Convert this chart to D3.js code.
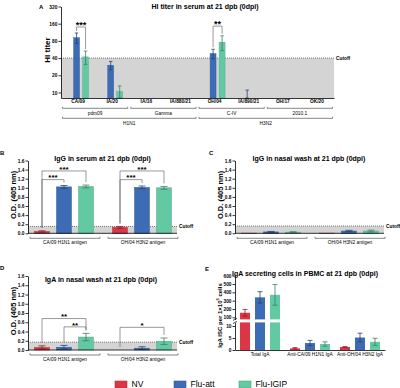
<!DOCTYPE html>
<html><head><meta charset="utf-8">
<script src="https://cdn.jsdelivr.net/npm/d3@7"></script>
<style>
body{margin:0;background:#fff}
svg{display:block}
</style></head><body>
<svg id="c" width="400" height="388"></svg>
<script>
// ---------- DATA ----------
const seriesNames = ["NV", "Flu-att", "Flu-IGIP"];
const seriesColors = ["#dc3545", "#3d6cb5", "#63c9a3"];

// Panel A: HI titer
const strainsA = ["CA/09", "IA/20", "IA/16", "IA/880/21", "OH/04", "IA/890/21", "OH/17", "OK/20"];
const lineageLabels = ["pdm09", "Gamma", "C-IV", "2010.1"];
const subtypeLabels = ["H1N1", "H3N2"];
const hiNV = [null, null, null, null, null, null, null, null];
const hiAtt = [91, 30, null, null, 48, 8, null, null];
const hiAttSd = [19, 5, 0, 0, 9, 3, 0, 0];
const hiIgip = [42, 10.4, null, null, 76, null, null, null];
const hiIgipSd = [11, 2.6, 0, 0, 22, 0, 0, 0];
const hiTicks = [10, 20, 40, 80, 160, 320];
const hiCutoff = 40;
const sigA = [
  {cat: "CA/09", a: 1, b: 2, level: 140, label: "***"},
  {cat: "OH/04", a: 1, b: 2, level: 145, label: "**"}
];

// Panels B, C, D: O.D. values
const antigens = ["CA/09 H1N1 antigen", "OH/04 H3N2 antigen"];
const odTicks = [0, 0.2, 0.4, 0.6, 0.8, 1.0, 1.2, 1.4, 1.6];
const igSerumNV = [0.04, 0.13], igSerumNVSd = [0.015, 0.02];
const igSerumAtt = [1.02, 1.01], igSerumAttSd = [0.03, 0.03];
const igSerumIgip = [1.03, 1.00], igSerumIgipSd = [0.03, 0.03];
const sigB = [
  {g: 0, a: 0, b: 2, level: 1.37, label: "***"},
  {g: 0, a: 0, b: 1, level: 1.18, label: "***"},
  {g: 1, a: 0, b: 2, level: 1.37, label: "***"},
  {g: 1, a: 0, b: 1, level: 1.18, label: "***"}
];
const igNasalNV = [0.004, 0.004], igNasalNVSd = [0, 0];
const igNasalAtt = [0.03, 0.05], igNasalAttSd = [0.01, 0.015];
const igNasalIgip = [0.025, 0.05], igNasalIgipSd = [0.01, 0.02];
const iga_NV = [0.055, 0], iga_NVSd = [0.035, 0];
const iga_Att = [0.06, 0.04], iga_AttSd = [0.04, 0.03];
const iga_Igip = [0.28, 0.19], iga_IgipSd = [0.08, 0.07];
const sigD = [
  {g: 0, a: 0, b: 2, level: 0.68, label: "**"},
  {g: 0, a: 1, b: 2, level: 0.50, label: "**"},
  {g: 1, a: 0, b: 2, level: 0.49, label: "*"}
];
const cutoffB = 0.15, cutoffC = 0.16, cutoffD = 0.17;

// Panel E: IgA secreting cells
const ascGroups = ["Total IgA", "Anti-CA/09 H1N1 IgA", "Anti-OH/04 H3N2 IgA"];
const ascNV = [155, 0.7, 1.25], ascNVSd = [40, 0.3, 0.15];
const ascAtt = [340, 2.9, 5.2], ascAttSd = [68, 1.1, 1.8];
const ascIgip = [370, 2.5, 3.4], ascIgipSd = [125, 0.9, 1.5];
const ascTicksHigh = [100, 200, 300, 400, 500, 600];
const ascTicksLow = [0, 5, 10];

// ---------- DRAWING ----------
const FONT = "'Liberation Sans', Arial, Helvetica, sans-serif";
const svg = d3.select("#c").attr("font-family", FONT);
const errColor = c => d3.color(c).darker(1.3).formatHex();
const edgeColor = c => d3.color(c).darker(0.5).formatHex();

function styleAxis(sel, fs, weight) {
  sel.attr("font-size", fs).attr("font-family", FONT).attr("font-weight", weight);
  sel.select(".domain").attr("stroke", "#000").attr("stroke-width", 0.8);
  sel.selectAll(".tick line").attr("stroke", "#000").attr("stroke-width", 0.8);
  sel.selectAll(".tick text").attr("fill", "#000");
}
function errBar(g, cx, yTop, yBot, capW, color) {
  g.append("line").attr("x1", cx).attr("x2", cx).attr("y1", yTop).attr("y2", yBot)
    .attr("stroke", color).attr("stroke-width", 0.8);
  [yTop, yBot].forEach(y => g.append("line").attr("x1", cx - capW / 2).attr("x2", cx + capW / 2)
    .attr("y1", y).attr("y2", y).attr("stroke", color).attr("stroke-width", 0.8));
}
function text(g, x, y, str, fs, weight, anchor) {
  return g.append("text").attr("x", x).attr("y", y).text(str).attr("font-size", fs)
    .attr("font-weight", weight || "normal").attr("text-anchor", anchor || "start").attr("fill", "#000");
}
function vText(g, x, y, str, fs) {
  return g.append("text").attr("transform", `translate(${x},${y}) rotate(-90)`).text(str)
    .attr("font-size", fs).attr("font-weight", "bold").attr("text-anchor", "middle").attr("fill", "#000");
}
function bracket(g, x0, x1, y, tick) {
  g.append("path").attr("d", `M${x0},${y - tick}V${y}H${x1}V${y - tick}`)
    .attr("fill", "none").attr("stroke", "#333").attr("stroke-width", 0.6);
}
function sigBracket(g, xa, xb, yLine, yA, yB, label, fs) {
  g.append("path").attr("d", `M${xa},${yA}V${yLine}H${xb}V${yB}`)
    .attr("fill", "none").attr("stroke", "#555").attr("stroke-width", 0.6);
  text(g, (xa + xb) / 2, yLine + 0.8, label, fs, "bold", "middle");
}

// ===== Panel A =====
(function () {
  const g = svg.append("g");
  const x = d3.scaleBand().domain(strainsA).range([61, 334]);
  const xi = d3.scaleBand().domain(seriesNames).range([-13.5, 10.5]).paddingInner(1 / 3);
  const y = d3.scaleLog().base(2).domain([8, 320]).range([98, 6.5]);
  const y0 = y.range()[0];
  g.append("rect").attr("x", 61).attr("y", y(hiCutoff)).attr("width", 273).attr("height", y0 - y(hiCutoff)).attr("fill", "#d4d4d4");
  g.append("line").attr("x1", 61).attr("x2", 334).attr("y1", y(hiCutoff)).attr("y2", y(hiCutoff))
    .attr("stroke", "#444").attr("stroke-width", 0.7).attr("stroke-dasharray", "1,1");
  text(g, 336, y(hiCutoff) + 1.8, "Cutoff", 4.8, "bold");

  const vals = [hiNV, hiAtt, hiIgip], sds = [hiNV.map(() => 0), hiAttSd, hiIgipSd];
  const tops = {};
  seriesNames.forEach((s, si) => {
    strainsA.forEach((c, i) => {
      const v = vals[si][i];
      if (v == null) return;
      const bx = x(c) + x.bandwidth() / 2 + xi(s), bw = xi.bandwidth();
      g.append("rect").attr("x", bx).attr("y", y(v)).attr("width", bw).attr("height", y0 - y(v))
        .attr("fill", seriesColors[si]).attr("stroke", edgeColor(seriesColors[si])).attr("stroke-width", 0.4);
      const hi = v + sds[si][i], lo = Math.max(8, v - sds[si][i]);
      errBar(g, bx + bw / 2, y(hi), y(lo), 3.5, errColor(seriesColors[si]));
      tops[c + si] = y(hi);
    });
  });
  sigA.forEach(d => {
    const xa = x(d.cat) + x.bandwidth() / 2 + xi(seriesNames[d.a]) + xi.bandwidth() / 2;
    const xb = x(d.cat) + x.bandwidth() / 2 + xi(seriesNames[d.b]) + xi.bandwidth() / 2;
    sigBracket(g, xa, xb, y(d.level), tops[d.cat + d.a] - 2, tops[d.cat + d.b] - 2, d.label, 9);
  });

  const ya = g.append("g").attr("transform", "translate(61,0)")
    .call(d3.axisLeft(y).tickValues(hiTicks).tickFormat(d3.format("d")).tickSize(2.5).tickSizeOuter(0).tickPadding(1.2));
  styleAxis(ya, 4.8, "bold");
  const xa = g.append("g").attr("transform", `translate(0,${y0})`)
    .call(d3.axisBottom(x).tickSize(0).tickPadding(1.6).tickSizeOuter(0));
  styleAxis(xa, 4.8, "bold");

  lineageLabels.forEach((l, j) => {
    const x0 = x(strainsA[2 * j]) + 1.5, x1 = x(strainsA[2 * j + 1]) + x.bandwidth() - 1.5;
    bracket(g, x0, x1, 108.3, 1.5);
    text(g, (x0 + x1) / 2, 115, l, 4.8, "normal", "middle");
  });
  subtypeLabels.forEach((l, j) => {
    const x0 = x(strainsA[4 * j]) + 1.5, x1 = x(strainsA[4 * j + 3]) + x.bandwidth() - 1.5;
    bracket(g, x0, x1, 118.3, 1.5);
    text(g, (x0 + x1) / 2, 125, l, 4.8, "normal", "middle");
  });
  text(g, 39, 8.5, "A", 6, "bold");
  text(g, 205, 8.5, "HI titer in serum at 21 dpb (0dpi)", 7, "bold", "middle");
  vText(g, 49.5, 50, "HI titer", 8);
})();

// ===== Panels B, C, D =====
function odPanel(cfg) {
  const g = svg.append("g");
  const x = d3.scaleBand().domain(antigens).range([cfg.ax - 3, cfg.ax + 153]);
  const xi = d3.scaleBand().domain(seriesNames).range([-29.5, 29.5]).paddingInner(0.318);
  const y = d3.scaleLinear().domain([0, 1.6]).range([cfg.y0, cfg.yTop]);
  const xEnd = cfg.ax + 149;
  g.append("rect").attr("x", cfg.ax).attr("y", y(cfg.cutoff)).attr("width", xEnd - cfg.ax)
    .attr("height", cfg.y0 - y(cfg.cutoff)).attr("fill", "#d4d4d4");
  g.append("line").attr("x1", cfg.ax).attr("x2", xEnd).attr("y1", y(cfg.cutoff)).attr("y2", y(cfg.cutoff))
    .attr("stroke", "#444").attr("stroke-width", 0.7).attr("stroke-dasharray", "1,1");
  text(g, xEnd + 2, y(cfg.cutoff) + 1.8, "Cutoff", 4.8, "bold");

  const centers = {};
  seriesNames.forEach((s, si) => {
    antigens.forEach((a, i) => {
      const v = cfg.vals[si][i], sd = cfg.sds[si][i];
      const bx = x(a) + x.bandwidth() / 2 + xi(s), bw = xi.bandwidth();
      centers[i + "_" + si] = {x: bx + bw / 2, top: y(v + sd)};
      if (v <= 0) return;
      g.append("rect").attr("x", bx).attr("y", y(v)).attr("width", bw).attr("height", cfg.y0 - y(v))
        .attr("fill", seriesColors[si]).attr("stroke", edgeColor(seriesColors[si])).attr("stroke-width", 0.5);
      if (sd > 0) errBar(g, bx + bw / 2, y(v + sd), y(Math.max(0, v - sd)), 7, errColor(seriesColors[si]));
    });
  });
  cfg.sig.forEach(d => {
    const A = centers[d.g + "_" + d.a], B = centers[d.g + "_" + d.b];
    sigBracket(g, A.x, B.x, y(d.level), A.top - 3, B.top - 3, d.label, 8);
  });
  const ya = g.append("g").attr("transform", `translate(${cfg.ax},0)`)
    .call(d3.axisLeft(y).tickValues(odTicks).tickFormat(d3.format(".1f")).tickSize(2.5).tickSizeOuter(0).tickPadding(1));
  styleAxis(ya, 4.8, "bold");
  g.append("line").attr("x1", cfg.ax).attr("x2", xEnd).attr("y1", cfg.y0).attr("y2", cfg.y0)
    .attr("stroke", "#000").attr("stroke-width", 0.8);
  antigens.forEach(a => {
    const c = x(a) + x.bandwidth() / 2;
    bracket(g, c - 34, c + 36, cfg.y0 + 5, 1.5);
    text(g, c + 1, cfg.y0 + 10.7, a, 4.8, "normal", "middle");
  });
  text(g, cfg.letterX, cfg.letterY, cfg.letter, 6, "bold");
  text(g, cfg.titleX, cfg.titleY, cfg.title, 7, "bold", "middle");
  vText(g, cfg.ax - 12.5, (cfg.y0 + cfg.yTop) / 2 - 2, "O.D. (405 nm)", 7.5);
}
odPanel({ax: 28, y0: 233.3, yTop: 160.5, cutoff: cutoffB,
  vals: [igSerumNV, igSerumAtt, igSerumIgip], sds: [igSerumNVSd, igSerumAttSd, igSerumIgipSd],
  sig: sigB, letter: "B", letterX: 0, letterY: 155, title: "IgG in serum at 21 dpb (0dpi)", titleX: 102.5, titleY: 161});
odPanel({ax: 235, y0: 233.3, yTop: 160.5, cutoff: cutoffC,
  vals: [igNasalNV, igNasalAtt, igNasalIgip], sds: [igNasalNVSd, igNasalAttSd, igNasalIgipSd],
  sig: [], letter: "C", letterX: 209, letterY: 155, title: "IgG in nasal wash at 21 dpb (0dpi)", titleX: 309, titleY: 161});
odPanel({ax: 28, y0: 350, yTop: 276, cutoff: cutoffD,
  vals: [iga_NV, iga_Att, iga_Igip], sds: [iga_NVSd, iga_AttSd, iga_IgipSd],
  sig: sigD, letter: "D", letterX: 0, letterY: 270, title: "IgA in nasal wash at 21 dpb (0dpi)", titleX: 101, titleY: 282});

// ===== Panel E =====
(function () {
  const g = svg.append("g");
  const ax = 235;
  const x = d3.scaleBand().domain(ascGroups).range([ax, 385]);
  const xi = d3.scaleBand().domain(seriesNames).range([-20, 20]).paddingInner(1 / 3);
  const yLow = d3.scaleLinear().domain([0, 11.5]).range([350, 322.4]);
  const yHigh = d3.scaleLinear().domain([75, 600]).range([319.4, 275.7]);
  const vals = [ascNV, ascAtt, ascIgip], sds = [ascNVSd, ascAttSd, ascIgipSd];
  seriesNames.forEach((s, si) => {
    ascGroups.forEach((grp, i) => {
      const v = vals[si][i], sd = sds[si][i];
      const bx = x(grp) + x.bandwidth() / 2 + xi(s), bw = xi.bandwidth();
      const col = seriesColors[si];
      if (v > yLow.domain()[1]) {
        g.append("rect").attr("x", bx).attr("y", yLow(yLow.domain()[1])).attr("width", bw)
          .attr("height", 350 - yLow(yLow.domain()[1])).attr("fill", col);
        g.append("rect").attr("x", bx).attr("y", yHigh(v)).attr("width", bw)
          .attr("height", yHigh(yHigh.domain()[0]) - yHigh(v)).attr("fill", col);
        errBar(g, bx + bw / 2, yHigh(v + sd), yHigh(v - sd), 5, errColor(col));
      } else {
        g.append("rect").attr("x", bx).attr("y", yLow(v)).attr("width", bw)
          .attr("height", 350 - yLow(v)).attr("fill", col);
        errBar(g, bx + bw / 2, yLow(v + sd), yLow(Math.max(0, v - sd)), 5, errColor(col));
      }
    });
  });
  const yl = g.append("g").attr("transform", `translate(${ax},0)`)
    .call(d3.axisLeft(yLow).tickValues(ascTicksLow).tickFormat(d3.format("d")).tickSize(2.5).tickSizeOuter(0).tickPadding(1));
  styleAxis(yl, 4.8, "bold");
  const yh = g.append("g").attr("transform", `translate(${ax},0)`)
    .call(d3.axisLeft(yHigh).tickValues(ascTicksHigh).tickFormat(d3.format("d")).tickSize(2.5).tickSizeOuter(0).tickPadding(1));
  styleAxis(yh, 4.8, "bold");
  // break marks
  [319.4, 322.4].forEach(yy => g.append("line").attr("x1", ax - 2).attr("x2", ax + 2)
    .attr("y1", yy + 1).attr("y2", yy - 1).attr("stroke", "#000").attr("stroke-width", 0.7));
  const xa = g.append("g").attr("transform", "translate(0,350)")
    .call(d3.axisBottom(x).tickSize(0).tickPadding(2.2).tickSizeOuter(0));
  styleAxis(xa, 4.8, "normal");
  text(g, 205, 271, "E", 6, "bold");
  text(g, 305, 276, "IgA secreting cells in PBMC at 21 dpb (0dpi)", 7, "bold", "middle");
  const t = g.append("text").attr("transform", "translate(221.5,315.5) rotate(-90)")
    .attr("font-size", 6).attr("font-weight", "bold").attr("text-anchor", "middle").attr("fill", "#000");
  t.append("tspan").text("IgA ISC per 1×10");
  t.append("tspan").text("6").attr("font-size", 4).attr("dy", -2.2);
  t.append("tspan").text(" cells").attr("dy", 2.2);
})();

// ===== Legend =====
(function () {
  const g = svg.append("g");
  const lx = d3.scaleOrdinal().domain(seriesNames).range([115, 174, 239]);
  seriesNames.forEach((s, i) => {
    g.append("rect").attr("x", lx(s)).attr("y", 381).attr("width", 12).attr("height", 7)
      .attr("fill", seriesColors[i]).attr("stroke", edgeColor(seriesColors[i])).attr("stroke-width", 0.6);
    text(g, lx(s) + 16.5, 387.3, s, 8.5, "normal");
  });
})();
</script>
</body></html>
